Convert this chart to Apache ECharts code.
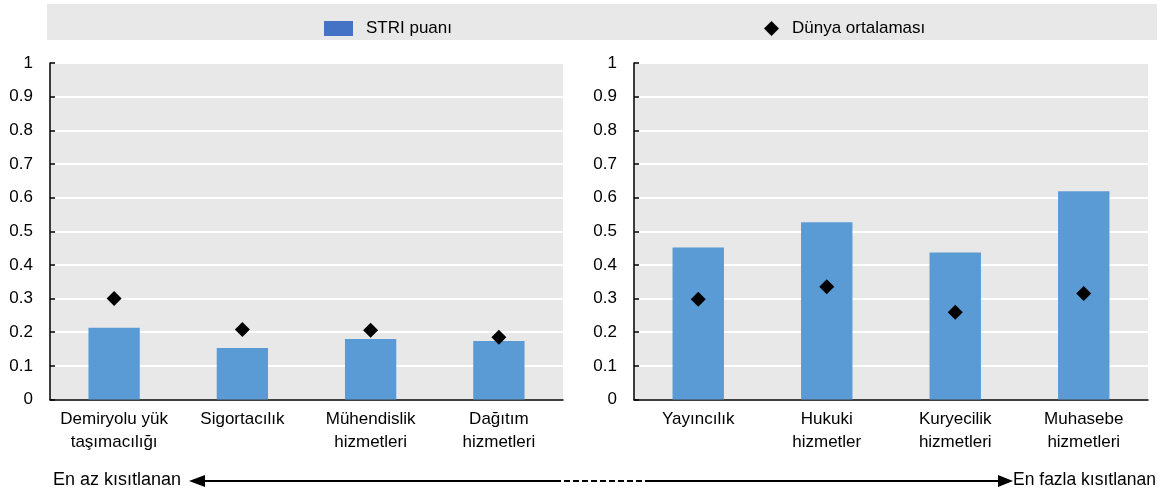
<!DOCTYPE html>
<html>
<head>
<meta charset="utf-8">
<script src="https://cdn.jsdelivr.net/npm/echarts@6/dist/echarts.min.js"></script>
<style>
  html, body { margin: 0; padding: 0; background: #fff; }
  #chart { width: 1164px; height: 493px; }
</style>
</head>
<body>
<div id="chart"></div>
<script>
// sol panel: en az kısıtlanan sektörler
const leftCats = ['Demiryolu yük\ntaşımacılığı', 'Sigortacılık', 'Mühendislik\nhizmetleri', 'Dağıtım\nhizmetleri'];
const leftStri = [0.213, 0.153, 0.18, 0.174];
const leftWorld = [0.300, 0.208, 0.206, 0.185];

// sağ panel: en fazla kısıtlanan sektörler
const rightCats = ['Yayıncılık', 'Hukuki\nhizmetler', 'Kuryecilik\nhizmetleri', 'Muhasebe\nhizmetleri'];
const rightStri = [0.452, 0.527, 0.437, 0.619];
const rightWorld = [0.298, 0.335, 0.259, 0.315];

const FONT = '"Liberation Sans", Arial, sans-serif';
const BAR = '#5B9BD5';

const chart = echarts.init(document.getElementById('chart'));

const yAxis = (gi) => ({
  type: 'value',
  gridIndex: gi,
  min: 0,
  max: 1,
  interval: 0.1,
  axisLine: { show: true, lineStyle: { color: '#000', width: 1.5 } },
  axisTick: { show: true, inside: true, length: 5, lineStyle: { color: '#000', width: 1.5 } },
  axisLabel: { color: '#000', fontFamily: FONT, fontSize: 17, margin: 17 },
  splitLine: { show: true, lineStyle: { color: '#fff', width: 2 } }
});

const xAxis = (gi, cats) => ({
  type: 'category',
  gridIndex: gi,
  data: cats,
  axisLine: { show: true, lineStyle: { color: '#000', width: 1.5 } },
  axisTick: { show: false },
  axisLabel: { color: '#000', fontFamily: FONT, fontSize: 17, lineHeight: 23, margin: 8, interval: 0 }
});

const option = {
  backgroundColor: '#fff',
  animation: false,
  grid: [
    { left: 50, top: 63, width: 513, height: 336.5, show: true, backgroundColor: '#e8e8e8', borderWidth: 0 },
    { left: 634, top: 63, width: 514, height: 336.5, show: true, backgroundColor: '#e8e8e8', borderWidth: 0 }
  ],
  xAxis: [xAxis(0, leftCats), xAxis(1, rightCats)],
  yAxis: [yAxis(0), yAxis(1)],
  legend: [
    {
      left: 319, top: 15,
      itemWidth: 29, itemHeight: 15, itemGap: 10,
      textStyle: { color: '#000', fontFamily: FONT, fontSize: 17, padding: [0, 0, 0, 8] },
      data: [{ name: 'STRI puanı', icon: 'rect', itemStyle: { color: '#4472C4' } }]
    },
    {
      left: 759, top: 15,
      itemWidth: 15, itemHeight: 15, itemGap: 10,
      textStyle: { color: '#000', fontFamily: FONT, fontSize: 17, padding: [0, 0, 0, 8] },
      data: [{ name: 'Dünya ortalaması', icon: 'diamond', itemStyle: { color: '#000', opacity: 1 } }]
    }
  ],
  graphic: [
    { type: 'rect', z: -10, shape: { x: 47, y: 4, width: 1110, height: 36 }, style: { fill: '#e8e8e8' } },
    { type: 'text', left: 53, top: 471, style: { text: 'En az kısıtlanan', font: '18px ' + FONT, fill: '#000' } },
    { type: 'text', left: 1013, top: 471, style: { text: 'En fazla kısıtlanan', font: '17.5px ' + FONT, fill: '#000' } },
    { type: 'line', shape: { x1: 203, y1: 481, x2: 555, y2: 481 }, style: { stroke: '#000', lineWidth: 2 } },
    { type: 'line', shape: { x1: 555, y1: 481, x2: 647, y2: 481 }, style: { stroke: '#000', lineWidth: 2, lineDash: [6, 3] } },
    { type: 'line', shape: { x1: 647, y1: 481, x2: 1000, y2: 481 }, style: { stroke: '#000', lineWidth: 2 } },
    { type: 'polygon', shape: { points: [[189, 481], [205, 475], [205, 487]] }, style: { fill: '#000' } },
    { type: 'polygon', shape: { points: [[1013, 481], [998, 475], [998, 487]] }, style: { fill: '#000' } }
  ],
  series: [
    { name: 'STRI puanı', type: 'bar', xAxisIndex: 0, yAxisIndex: 0, data: leftStri, barWidth: '40%', itemStyle: { color: BAR } },
    { name: 'STRI puanı', type: 'bar', xAxisIndex: 1, yAxisIndex: 1, data: rightStri, barWidth: '40%', itemStyle: { color: BAR } },
    { name: 'Dünya ortalaması', type: 'scatter', xAxisIndex: 0, yAxisIndex: 0, data: leftWorld, symbol: 'diamond', symbolSize: 15, itemStyle: { color: '#000', opacity: 1 }, z: 5 },
    { name: 'Dünya ortalaması', type: 'scatter', xAxisIndex: 1, yAxisIndex: 1, data: rightWorld, symbol: 'diamond', symbolSize: 15, itemStyle: { color: '#000', opacity: 1 }, z: 5 }
  ]
};

chart.setOption(option);
</script>
</body>
</html>
